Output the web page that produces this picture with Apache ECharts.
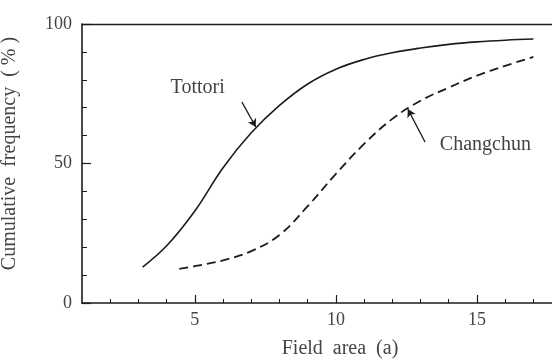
<!DOCTYPE html>
<html>
<head>
<meta charset="utf-8">
<script src="https://cdn.jsdelivr.net/npm/echarts@6/dist/echarts.min.js"></script>
<style>
  html, body { margin: 0; padding: 0; background: #fff; }
  #chart { width: 552px; height: 360px; }
</style>
</head>
<body>
<div id="chart"></div>
<script>
(() => {
  let myChart = echarts.init(document.getElementById('chart'));

  // field area (a), cumulative frequency (%)
  const tottori = [
    [3.15, 12.9], [4, 20.5], [5, 33], [6, 48.5], [7, 61], [8, 70.8], [9, 78.5],
    [10, 83.8], [11, 87.3], [12, 89.7], [13, 91.4], [14, 92.7], [15, 93.6], [16, 94.2], [17, 94.6]
  ];
  const changchun = [
    [4.45, 12.2], [5, 13.2], [6, 15.3], [7, 18.6], [8, 24.4], [9, 34.7], [10, 46.3],
    [11, 57], [12, 66], [13, 72.5], [14, 77.2], [15, 81.5], [16, 85], [17, 88.2]
  ];

  const majorTicks = [5, 10, 15];
  const minorTicks = [2, 3, 4, 6, 7, 8, 9, 11, 12, 13, 14, 16, 17];

  // annotation text and arrows, in data coords
  const labels = [
    { name: 'Tottori', coord: [5.1, 77.1] },
    { name: 'Changchun', coord: [15.3, 56.6] }
  ];
  const arrows = [
    [[6.67, 72.0], [7.16, 63.1]],
    [[13.16, 57.7], [12.55, 69.5]]
  ];

  const ink = '#1c1c1c';
  const textColor = '#444';
  const font = 'Liberation Serif';

  const xBase = {
    type: 'value',
    min: 1,
    max: 17.66,
    position: 'bottom',
    splitLine: { show: false }
  };

  let option = {
    animation: false,
    backgroundColor: '#fff',
    grid: { left: 82, right: 0, top: 24, bottom: 57, outerBoundsMode: 'none', containLabel: false },
    xAxis: [
      Object.assign({}, xBase, {
        axisLine: { lineStyle: { color: ink, width: 1.6 } },
        axisTick: { inside: true, length: 4, customValues: minorTicks, lineStyle: { color: ink } },
        axisLabel: { show: false },
        name: 'Field  area  (a)',
        nameLocation: 'middle',
        nameGap: 36,
        nameTextStyle: { fontFamily: font, fontSize: 20, color: textColor, padding: [0, 0, 0, 46] }
      }),
      Object.assign({}, xBase, {
        axisLine: { show: false },
        axisTick: { inside: true, length: 8, customValues: majorTicks, lineStyle: { color: ink, width: 1.2 } },
        axisLabel: { customValues: majorTicks, margin: 8, fontFamily: font, fontSize: 18, color: textColor }
      }),
      Object.assign({}, xBase, {
        position: 'top',
        axisLine: { lineStyle: { color: ink, width: 1.4 } },
        axisTick: { show: false },
        axisLabel: { show: false }
      })
    ],
    yAxis: {
      type: 'value',
      min: 0,
      max: 100,
      interval: 50,
      splitLine: { show: false },
      axisLine: { show: true, lineStyle: { color: ink, width: 1.6 } },
      axisTick: { show: true, inside: true, length: 9, lineStyle: { color: ink, width: 1.2 } },
      minorTick: { show: true, splitNumber: 5, length: 5, lineStyle: { color: ink } },
      axisLabel: { margin: 10, fontFamily: font, fontSize: 18, color: textColor },
      name: 'Cumulative  frequency  ( % )',
      nameLocation: 'middle',
      nameGap: 62,
      nameTextStyle: { fontFamily: font, fontSize: 20, color: textColor, padding: [0, 0, 0, 20] }
    },
    series: [
      {
        name: 'Tottori',
        type: 'line',
        data: tottori,
        smooth: 0.4,
        symbol: 'none',
        lineStyle: { color: ink, width: 1.6 },
        markPoint: {
          symbol: 'circle',
          symbolSize: 0,
          silent: true,
          label: { show: true, formatter: '{b}', fontFamily: font, fontSize: 20, color: textColor },
          data: labels
        },
        markLine: {
          silent: true,
          symbol: ['none', 'arrow'],
          symbolSize: [7, 8],
          label: { show: false },
          lineStyle: { color: ink, width: 1.3, type: 'solid' },
          data: arrows.map(a => [{ coord: a[0] }, { coord: a[1] }])
        }
      },
      {
        name: 'Changchun',
        type: 'line',
        data: changchun,
        smooth: 0.4,
        symbol: 'none',
        lineStyle: { color: ink, width: 1.8, type: [9, 5] }
      }
    ]
  };

  myChart.setOption(option);
})();
</script>
</body>
</html>
